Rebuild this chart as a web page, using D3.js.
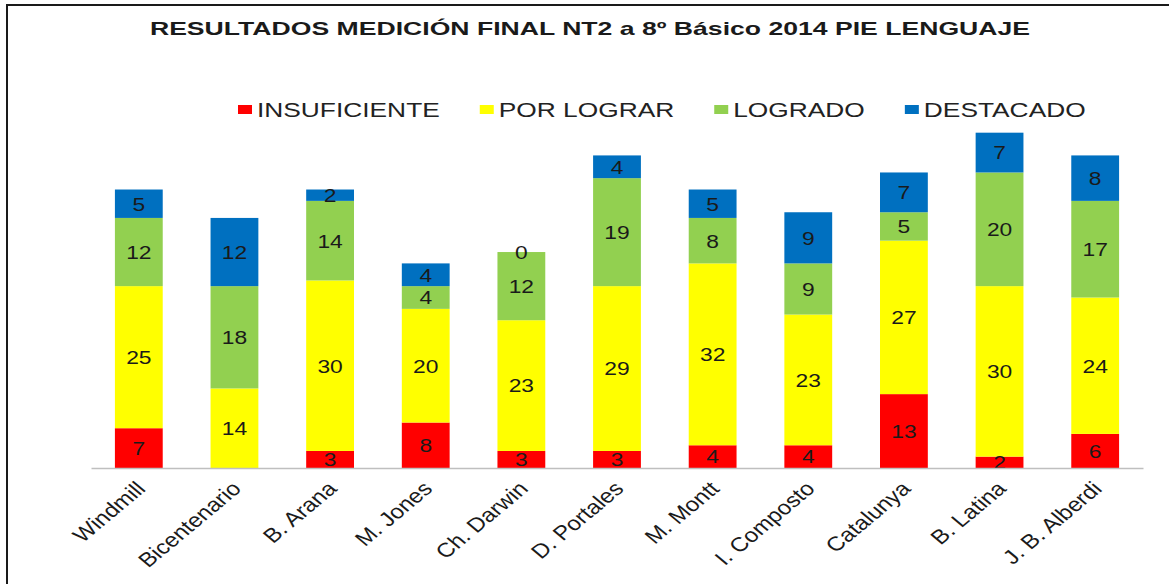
<!DOCTYPE html>
<html>
<head>
<meta charset="utf-8">
<script src="https://cdn.jsdelivr.net/npm/d3@7"></script>
<style>
  body { margin: 0; background: #fff; }
  svg { display: block; font-family: "Liberation Sans", Arial, sans-serif; }
</style>
</head>
<body>
<div id="chartContainer"></div>
<script>
var categories = ["Windmill", "Bicentenario", "B. Arana", "M. Jones", "Ch. Darwin", "D. Portales",
                  "M. Montt", "I. Composto", "Catalunya", "B. Latina", "J. B. Alberdi"];
var insuficiente = [7, null, 3, 8, 3, 3, 4, 4, 13, 2, 6];
var porLograr    = [25, 14, 30, 20, 23, 29, 32, 23, 27, 30, 24];
var logrado      = [12, 18, 14, 4, 12, 19, 8, 9, 5, 20, 17];
var destacado    = [5, 12, 2, 4, 0, 4, 5, 9, 7, 7, 8];
var seriesNames  = ["INSUFICIENTE", "POR LOGRAR", "LOGRADO", "DESTACADO"];
var title = "RESULTADOS MEDICIÓN FINAL NT2 a 8º Básico 2014 PIE LENGUAJE";

var colors = ["#ff0000", "#ffff00", "#92d050", "#0070c0"];
// text in the original picture is stretched horizontally
var stretch = 1.2, wideStretch = 1.35;

var width = 1169, height = 584;
var margin = {top: 127, right: 26, bottom: 116, left: 91};

var svg = d3.select("#chartContainer").append("svg")
  .attr("width", width)
  .attr("height", height);

// frame
svg.append("rect")
  .attr("x", 7).attr("y", 5)
  .attr("width", width).attr("height", height)
  .attr("fill", "none")
  .attr("stroke", "#1a1a1a")
  .attr("stroke-width", 2);

var keys = ["insuficiente", "porLograr", "logrado", "destacado"];
var rows = categories.map(function(c, i){
  return {name: c, insuficiente: insuficiente[i], porLograr: porLograr[i],
          logrado: logrado[i], destacado: destacado[i]};
});

var stack = d3.stack()
  .keys(keys)
  .value(function(d, k){ return d[k] || 0; });
var layers = stack(rows);

var x = d3.scaleBand()
  .domain(categories)
  .range([margin.left, width - margin.right])
  .paddingInner(0.5)
  .paddingOuter(0.25);

var y = d3.scaleLinear()
  .domain([0, 60])
  .range([height - margin.bottom, margin.top]);

// title
svg.append("text")
  .attr("transform", "translate(590,35) scale(1.4,1)")
  .attr("text-anchor", "middle")
  .attr("font-size", 19)
  .attr("font-weight", "bold")
  .attr("fill", "#1a1a1a")
  .text(title);

// legend
var legend = svg.append("g").attr("transform", "translate(238,110)");
var lx = 0;
seriesNames.forEach(function(s, i){
  var g = legend.append("g").attr("transform", "translate(" + lx + ",0)");
  g.append("rect")
    .attr("x", 0).attr("y", -5)
    .attr("width", 14).attr("height", 9)
    .attr("fill", colors[i]);
  var t = g.append("text")
    .attr("transform", "translate(19,0) scale(" + wideStretch + ",1)")
    .attr("dy", "0.35em")
    .attr("font-size", 19.5)
    .attr("fill", "#222")
    .text(s);
  lx += 19 + t.node().getComputedTextLength() * wideStretch + 40;
});

// bars
var layer = svg.append("g").selectAll("g")
  .data(layers)
  .join("g")
    .attr("fill", function(d, i){ return colors[i]; });

layer.selectAll("rect")
  .data(function(d){ return d; })
  .join("rect")
    .attr("x", function(d){ return x(d.data.name); })
    .attr("y", function(d){ return y(d[1]); })
    .attr("width", x.bandwidth())
    .attr("height", function(d){ return y(d[0]) - y(d[1]); });

// value labels
layers.forEach(function(l){
  svg.append("g").selectAll("text")
    .data(l.filter(function(d){ return d.data[l.key] != null; }))
    .join("text")
      .attr("transform", function(d){
        return "translate(" + (x(d.data.name) + x.bandwidth() / 2) + "," + y((d[0] + d[1]) / 2) + ") scale(" + stretch + ",1)";
      })
      .attr("text-anchor", "middle")
      .attr("dy", "0.36em")
      .attr("font-size", 19)
      .attr("fill", "#1a1a1a")
      .text(function(d){ return d.data[l.key]; });
});

// x axis
var xAxis = d3.axisBottom(x).tickSize(0).tickSizeOuter(0);
var xg = svg.append("g")
  .attr("transform", "translate(0," + y(0) + ")")
  .call(xAxis);
xg.select(".domain")
  .attr("stroke", "#bfbfbf")
  .attr("stroke-width", 1.5);
xg.selectAll("text")
  .attr("x", null).attr("y", null).attr("dy", null)
  .attr("text-anchor", "end")
  .attr("transform", "translate(8,22) scale(" + stretch + ",1) rotate(-45)")
  .attr("font-family", "Liberation Sans, Arial, sans-serif")
  .attr("font-size", 20)
  .attr("fill", "#1a1a1a");
</script>
</body>
</html>
